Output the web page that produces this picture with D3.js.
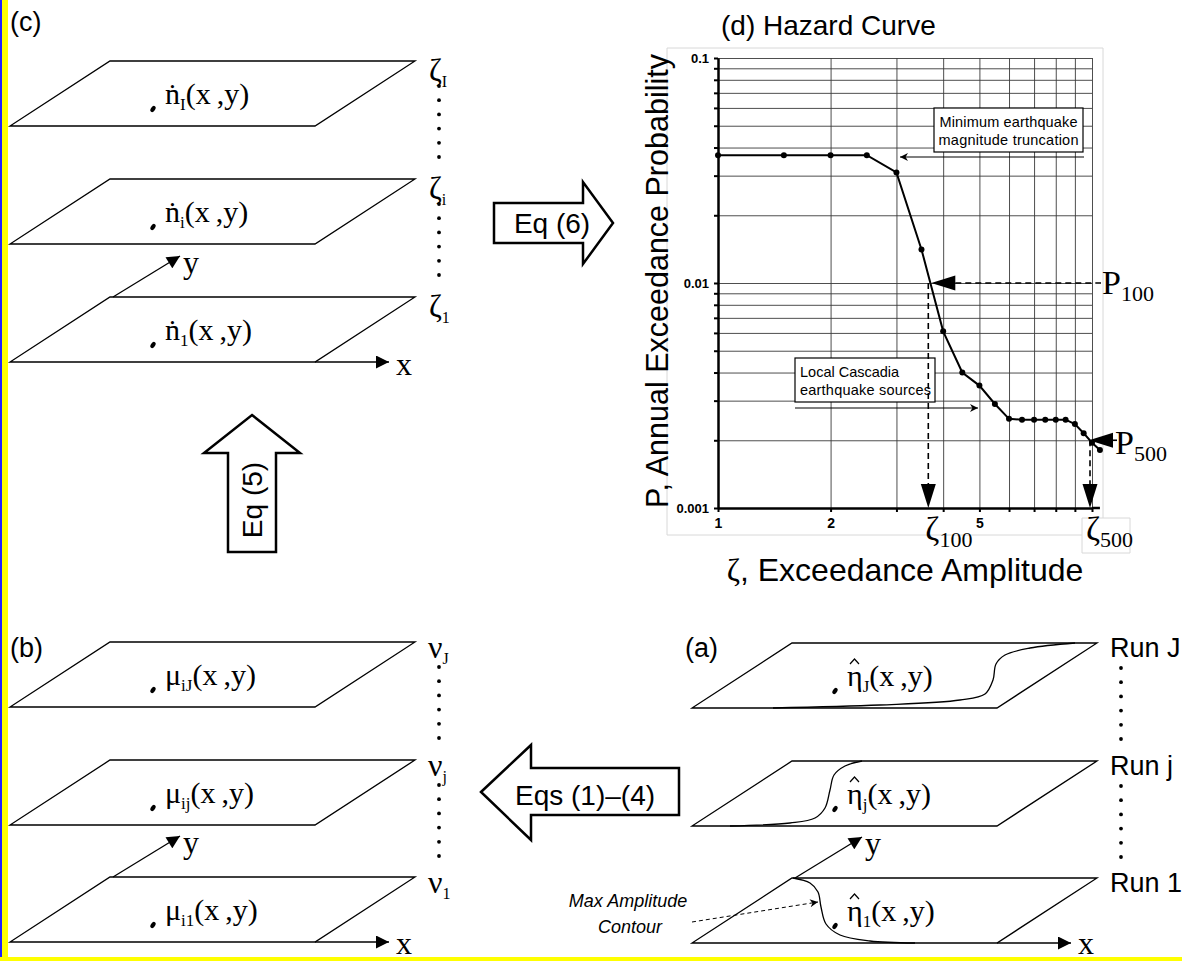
<!DOCTYPE html>
<html>
<head>
<meta charset="utf-8">
<script src="https://d3js.org/d3.v7.min.js"></script>
<style>
body { margin: 0; background: #fff; }
svg { display: block; }
</style>
</head>
<body>
<svg id="fig" width="1182" height="961"></svg>
<script>
// hazard curve
var zeta = [1, 1.5, 2, 2.5, 3, 3.5, 4, 4.5, 5, 5.5, 6, 6.5, 7, 7.5, 8, 8.5, 9, 9.5, 10, 10.5];
var prob = [0.037, 0.037, 0.037, 0.037, 0.031, 0.0141, 0.0061, 0.0040, 0.0035, 0.0029,
            0.00249, 0.00247, 0.00247, 0.00247, 0.00247, 0.00247, 0.00236, 0.00215, 0.00195, 0.00181];
var yTickLabels = [0.1, 0.01, 0.001];
var xTickLabels = [1, 2, 5];
var p100 = 0.01, zeta100 = 3.65;
var p500 = 0.002, zeta500 = 10;

// layer labels of the stacked planes
var cSubs = ['I', 'i', '1'];
var bSubs = ['iJ', 'ij', 'i1'];
var nuSubs = ['J', 'j', '1'];
var aSubs = ['J', 'j', '1'];
var runLabels = ['Run J', 'Run j', 'Run 1'];

var SERIF = '"Liberation Serif", "DejaVu Serif", serif';
var SANS = '"Liberation Sans", Arial, sans-serif';

var svg = d3.select('#fig');

// border strips
svg.append('rect').attr('x', 0).attr('y', 0).attr('width', 8).attr('height', 961).attr('fill', '#ffff00');
svg.append('rect').attr('x', 0).attr('y', 0).attr('width', 2).attr('height', 961).attr('fill', '#2020ff');
svg.append('rect').attr('x', 0).attr('y', 957).attr('width', 1182).attr('height', 4).attr('fill', '#ffff00');

// arrow markers
var defs = svg.append('defs');
defs.append('marker').attr('id', 'tri').attr('viewBox', '0 0 10 10')
  .attr('refX', 10).attr('refY', 5).attr('markerWidth', 14).attr('markerHeight', 13)
  .attr('markerUnits', 'userSpaceOnUse').attr('orient', 'auto')
  .append('path').attr('d', 'M0,0 L10,5 L0,10 Z').attr('fill', '#000');
defs.append('marker').attr('id', 'small').attr('viewBox', '0 0 10 10')
  .attr('refX', 10).attr('refY', 5).attr('markerWidth', 11).attr('markerHeight', 8)
  .attr('markerUnits', 'userSpaceOnUse').attr('orient', 'auto')
  .append('path').attr('d', 'M0,0 L10,5 L0,10 L3,5 Z').attr('fill', '#000');

function subText(g, x, y, main, sub, rest, size, subSize, family) {
  var t = g.append('text').attr('x', x).attr('y', y)
    .attr('font-family', family || SERIF).attr('font-size', size).attr('fill', '#000');
  t.append('tspan').text(main);
  t.append('tspan').attr('font-size', subSize).attr('dy', size * 0.2).text(sub);
  if (rest) t.append('tspan').attr('dy', -size * 0.2).text(rest);
  return t;
}

// one stack of planes
function stack(x0, tops, mainChar, subs, side, hat) {
  var g = svg.append('g');
  tops.forEach(function(top, i) {
    var bot = top + 65;
    g.append('path')
      .attr('d', 'M' + (x0 + 100) + ',' + top + ' L' + (x0 + 405) + ',' + top +
                 ' L' + (x0 + 305) + ',' + bot + ' L' + x0 + ',' + bot + ' Z')
      .attr('fill', 'none').attr('stroke', '#000').attr('stroke-width', 1.3);
    // point marker
    g.append('ellipse').attr('cx', 0).attr('cy', 0).attr('rx', 3.4).attr('ry', 2.1)
      .attr('transform', 'translate(' + (x0 + 143) + ',' + (top + 48) + ') rotate(-55)')
      .attr('fill', '#000');
    subText(g, x0 + 155, top + 43, mainChar, subs[i], '(x\u2009,y)', 30, 17);
    if (hat) {
      var hx = x0 + 162.5, hy = top + 16;
      g.append('path').attr('d', 'M' + (hx - 4.5) + ',' + (hy + 5) + ' L' + hx + ',' + hy + ' L' + (hx + 4.5) + ',' + (hy + 5))
        .attr('fill', 'none').attr('stroke', '#000').attr('stroke-width', 1.2);
    }
    side(g, i, top);
    if (i < tops.length - 1) {
      d3.range(6).forEach(function(k) {
        g.append('circle').attr('cx', x0 + 429).attr('cy', top + 25 + k * 14.2)
          .attr('r', 1.9).attr('fill', '#000');
      });
    }
  });
  var last = tops[tops.length - 1];
  g.append('line').attr('x1', x0 + 103).attr('y1', last).attr('x2', x0 + 170).attr('y2', last - 41)
    .attr('stroke', '#000').attr('stroke-width', 1.3).attr('marker-end', 'url(#tri)');
  g.append('text').attr('x', x0 + 173).attr('y', last - 24).attr('font-family', SERIF)
    .attr('font-size', 32).text('y');
  g.append('line').attr('x1', x0 + 305).attr('y1', last + 65).attr('x2', x0 + 379).attr('y2', last + 65)
    .attr('stroke', '#000').attr('stroke-width', 1.3).attr('marker-end', 'url(#tri)');
  g.append('text').attr('x', x0 + 386).attr('y', Math.min(last + 78, 954)).attr('font-family', SERIF)
    .attr('font-size', 32).text('x');
  return g;
}

// (c)
svg.append('text').attr('x', 10).attr('y', 31).attr('font-family', SANS).attr('font-size', 27).text('(c)');
stack(10, [61, 179, 297], '\u1E45', cSubs, function(g, i, top) {
  subText(g, 429, top + 20, '\u03B6', cSubs[i], null, 31, 16);
});

// (b)
svg.append('text').attr('x', 10).attr('y', 657).attr('font-family', SANS).attr('font-size', 27).text('(b)');
stack(10, [642, 760, 877], '\u03BC', bSubs, function(g, i, top) {
  subText(g, 428, top + 16, '\u03BD', nuSubs[i], null, 32, 16);
});

// (a)
svg.append('text').attr('x', 685).attr('y', 657).attr('font-family', SANS).attr('font-size', 27).text('(a)');
var ga = stack(692, [643, 761, 878], '\u03B7', aSubs, function(g, i, top) {
  g.append('text').attr('x', 1110).attr('y', top + 14).attr('font-family', SANS)
    .attr('font-size', 27).text(runLabels[i]);
}, true);

// max amplitude contours in (a)
var contours = [
  [[773, 708], [880, 705], [960, 700], [985, 694], [993, 680], [996, 664], [1005, 655], [1030, 648], [1075, 643]],
  [[730, 826], [790, 823], [815, 818], [825, 808], [830, 790], [834, 775], [845, 766], [862, 761]],
  [[793, 878], [810, 883], [818, 892], [821, 907], [826, 924], [840, 935], [870, 941], [915, 943]]
];
var cline = d3.line().curve(d3.curveCatmullRom.alpha(0.5));
contours.forEach(function(c) {
  ga.append('path').attr('d', cline(c)).attr('fill', 'none').attr('stroke', '#000').attr('stroke-width', 1.3);
});
ga.append('text').attr('x', 628).attr('y', 907).attr('text-anchor', 'middle').attr('font-family', SANS)
  .attr('font-style', 'italic').attr('font-size', 18).text('Max Amplitude');
ga.append('text').attr('x', 630).attr('y', 933).attr('text-anchor', 'middle').attr('font-family', SANS)
  .attr('font-style', 'italic').attr('font-size', 18).text('Contour');
ga.append('line').attr('x1', 692).attr('y1', 922).attr('x2', 818).attr('y2', 902)
  .attr('stroke', '#000').attr('stroke-width', 1).attr('stroke-dasharray', '4,3')
  .attr('marker-end', 'url(#small)');

// block arrows
function blockArrow(pts, label, tx, ty, rot) {
  svg.append('path').attr('d', 'M' + pts.join(' L') + ' Z')
    .attr('fill', '#fff').attr('stroke', '#000').attr('stroke-width', 2.5).attr('stroke-linejoin', 'miter');
  svg.append('text').attr('transform', 'translate(' + tx + ',' + ty + ') rotate(' + rot + ')')
    .attr('text-anchor', 'middle').attr('font-family', SANS).attr('font-size', 28).text(label);
}
blockArrow([[494, 203], [583, 203], [583, 182], [613, 223], [583, 264], [583, 243], [494, 243]], 'Eq (6)', 552, 233, 0);
blockArrow([[252, 415], [300, 453], [276, 453], [276, 552], [228, 552], [228, 453], [204, 453]], 'Eq (5)', 262, 500, -90);
blockArrow([[481, 792], [531, 745], [531, 768], [679, 768], [679, 815], [531, 815], [531, 840]], 'Eqs (1)\u2013(4)', 585, 805, 0);

// (d) hazard curve
var x = d3.scaleLog().domain([1, 10]).range([718, 1092]);
var y = d3.scaleLog().domain([0.001, 0.1]).range([508, 58]);
var xGrid = d3.range(1, 11);
var yGrid = [];
[0.001, 0.01].forEach(function(dec) {
  d3.range(1, 10).forEach(function(m) { yGrid.push(+(m * dec).toPrecision(3)); });
});
yGrid.push(0.1);

var gd = svg.append('g');
// image frame
gd.append('path').attr('d', 'M667,48 L1103,48 L1103,518 M667,48 L667,535 L1082,535 M1082,518 L1130,518 L1130,553 L1082,553 L1082,518')
  .attr('fill', 'none').attr('stroke', '#d8d8d8').attr('stroke-width', 1);

svg.append('text').attr('x', 721).attr('y', 35).attr('font-family', SANS).attr('font-size', 28).text('(d) Hazard Curve');

gd.append('g').attr('transform', 'translate(0,508)')
  .call(d3.axisBottom(x).tickValues(xGrid).tickSize(-450).tickFormat(''))
  .call(function(s) { s.select('.domain').remove(); s.selectAll('line').attr('stroke', '#3a3a3a').attr('stroke-width', 0.9); });
gd.append('g').attr('transform', 'translate(718,0)')
  .call(d3.axisLeft(y).tickValues(yGrid).tickSize(-(x(10) - 718)).tickFormat(''))
  .call(function(s) { s.select('.domain').remove(); s.selectAll('line').attr('stroke', '#3a3a3a').attr('stroke-width', 0.9); });

gd.append('g').attr('transform', 'translate(718,0)')
  .call(d3.axisLeft(y).tickValues(yGrid).tickSize(4).tickSizeOuter(0).tickPadding(5)
    .tickFormat(function(d) { return yTickLabels.indexOf(d) >= 0 ? String(d) : ''; }))
  .call(function(s) {
    s.select('.domain').attr('stroke-width', 2.5);
    s.selectAll('line').attr('stroke-width', 2);
    s.selectAll('text').attr('font-family', SANS).attr('font-weight', 'bold').attr('font-size', 13).attr('fill', '#000');
  });
gd.append('g').attr('transform', 'translate(0,508)')
  .call(d3.axisBottom(x).tickValues(xGrid).tickSize(4).tickSizeOuter(0).tickPadding(6)
    .tickFormat(function(d) { return xTickLabels.indexOf(d) >= 0 ? String(d) : ''; }))
  .call(function(s) {
    s.select('.domain').attr('stroke-width', 2.5);
    s.selectAll('line').attr('stroke-width', 2);
    s.selectAll('text').attr('font-family', SANS).attr('font-weight', 'bold').attr('font-size', 14).attr('fill', '#000');
  });
gd.append('line').attr('x1', x(10)).attr('x2', x(10.5)).attr('y1', 508).attr('y2', 508)
  .attr('stroke', '#000').attr('stroke-width', 2.5);

var pts = zeta.map(function(z, i) { return [z, prob[i]]; });
gd.append('path').attr('d', d3.line().x(function(d) { return x(d[0]); }).y(function(d) { return y(d[1]); })(pts))
  .attr('fill', 'none').attr('stroke', '#000').attr('stroke-width', 2);
gd.selectAll('circle.pt').data(pts).enter().append('circle').attr('class', 'pt')
  .attr('cx', function(d) { return x(d[0]); }).attr('cy', function(d) { return y(d[1]); })
  .attr('r', 3).attr('fill', '#000');

// annotation boxes
gd.append('rect').attr('x', 934).attr('y', 108).attr('width', 149).attr('height', 44)
  .attr('fill', '#fff').attr('stroke', '#000').attr('stroke-width', 1.2);
gd.append('text').attr('x', 1008.5).attr('y', 127).attr('text-anchor', 'middle').attr('font-family', SANS)
  .attr('font-size', 14.5).attr('textLength', 138).text('Minimum earthquake');
gd.append('text').attr('x', 1008.5).attr('y', 145).attr('text-anchor', 'middle').attr('font-family', SANS)
  .attr('font-size', 14.5).attr('textLength', 140).text('magnitude truncation');
gd.append('line').attr('x1', 1084).attr('y1', 157).attr('x2', 900).attr('y2', 157)
  .attr('stroke', '#000').attr('stroke-width', 1.2).attr('marker-end', 'url(#small)');

gd.append('rect').attr('x', 795).attr('y', 358).attr('width', 140).attr('height', 44)
  .attr('fill', '#fff').attr('stroke', '#000').attr('stroke-width', 1.2);
gd.append('text').attr('x', 800).attr('y', 377).attr('font-family', SANS).attr('font-size', 14.5).text('Local Cascadia');
gd.append('text').attr('x', 800).attr('y', 395).attr('font-family', SANS).attr('font-size', 14.5)
  .attr('textLength', 131).text('earthquake sources');
gd.append('line').attr('x1', 795).attr('y1', 408).attr('x2', 978).attr('y2', 408)
  .attr('stroke', '#000').attr('stroke-width', 1.2).attr('marker-end', 'url(#small)');

// P100 / P500 arrows
function bigTri(tx, ty, dir) {
  var L = 24, H = 7.5, p;
  if (dir === 'left') p = [[tx, ty], [tx + L, ty - H], [tx + L, ty + H]];
  else p = [[tx, ty], [tx - H, ty - L], [tx + H, ty - L]];
  gd.append('path').attr('d', 'M' + p.join(' L') + ' Z').attr('fill', '#000');
}
function dash(x1, y1, x2, y2) {
  gd.append('line').attr('x1', x1).attr('y1', y1).attr('x2', x2).attr('y2', y2)
    .attr('stroke', '#000').attr('stroke-width', 1.6).attr('stroke-dasharray', '6,4');
}
var y100 = y(p100), x100 = x(zeta100), y500 = y(p500), x500 = x(zeta500);
dash(x100 + 27, y100, 1101, y100);
bigTri(x100 + 3, y100, 'left');
dash(x100, y100, x100, y(0.001) - 24);
bigTri(x100, y(0.001), 'down');
bigTri(x500 - 3, y500, 'left');
gd.append('line').attr('x1', x500 + 20).attr('x2', 1117).attr('y1', y500).attr('y2', y500).attr('stroke', '#000').attr('stroke-width', 1.6);
dash(x500 - 2, y500, x500 - 2, y(0.001) - 24);
bigTri(x500 - 2, y(0.001), 'down');

subText(gd, 1102, y100 + 11, 'P', '100', null, 34, 22);
subText(gd, 1115, y500 + 14, 'P', '500', null, 34, 22);
subText(gd, x100 - 3, 540, '\u03B6', '100', null, 34, 22);
subText(gd, x500 - 6, 540, '\u03B6', '500', null, 34, 22);

// axis titles
svg.append('text').attr('transform', 'translate(668,281) rotate(-90)').attr('text-anchor', 'middle')
  .attr('font-family', SANS).attr('font-size', 30.5).text('P, Annual Exceedance Probability');
var xt = svg.append('text').attr('x', 905).attr('y', 581).attr('text-anchor', 'middle').attr('font-size', 32);
xt.append('tspan').attr('font-family', SERIF).text('\u03B6');
xt.append('tspan').attr('font-family', SANS).text(', Exceedance Amplitude');
</script>
</body>
</html>
